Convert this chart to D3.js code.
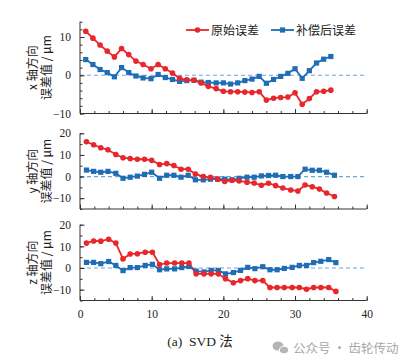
<!DOCTYPE html>
<html><head><meta charset="utf-8">
<script src="https://cdn.jsdelivr.net/npm/d3@7"></script>
<style>
html,body{margin:0;padding:0;background:#fff;}
svg{display:block;}
.tick text{font-family:"Liberation Serif","DejaVu Serif",serif;}
</style></head>
<body>
<svg id="chart" width="404" height="364"></svg>
<script>
// ---- data ----
const seriesNames = ["原始误差", "补偿后误差"];
const panelLabels = ["x 轴方向", "y 轴方向", "z 轴方向"];
const unitLabel = "误差值 / μm";
const caption = "(a)\u00a0\u00a0SVD 法";
const watermark = "公众号 · 齿轮传动";

const xTickLabels = [0, 10, 20, 30, 40];

const xPosX = [0.8,1.8,2.8,3.8,4.8,5.8,6.8,7.8,8.8,9.9,10.9,11.9,12.9,13.9,14.9,15.9,16.9,17.9,19.0,20.0,21.0,22.0,23.0,24.0,25.0,26.0,27.0,28.0,29.0,30.0,31.0,32.0,33.0,34.0,35.0];
const xPosY = [0.9,1.9,2.9,3.9,5.0,6.0,7.0,8.0,9.0,10.0,11.1,12.1,13.1,14.1,15.1,16.1,17.2,18.2,19.2,20.2,21.2,22.2,23.3,24.3,25.3,26.3,27.3,28.3,29.4,30.4,31.4,32.4,33.4,34.4,35.5];
const xPosZ = [0.9,1.9,2.9,4.0,5.0,6.0,7.0,8.0,9.1,10.1,11.1,12.1,13.2,14.2,15.2,16.2,17.3,18.3,19.3,20.3,21.4,22.4,23.4,24.4,25.5,26.5,27.5,28.5,29.6,30.6,31.6,32.6,33.6,34.7,35.7];

const rawX = [11.5,9.7,7.9,6.3,4.8,7.0,5.4,3.7,2.8,1.7,2.8,1.7,0.6,-0.8,-1.2,-1.3,-2.0,-2.9,-3.5,-4.2,-4.3,-4.3,-4.4,-4.5,-4.3,-6.5,-6.0,-5.8,-5.7,-4.6,-7.6,-6.1,-4.3,-4.2,-3.9];
const compX = [4.1,2.8,1.5,0.7,-0.4,2.0,0.7,-0.2,-0.7,-0.9,0.2,-0.6,-1.1,-1.6,-1.4,-1.3,-1.8,-1.9,-2.0,-2.0,-2.3,-2.0,-1.4,-1.0,-0.3,-2.1,-1.1,-0.3,0.5,1.7,-0.8,1.2,3.2,4.2,4.9];

const rawY = [16.1,14.7,13.3,12.4,10.2,8.7,8.3,8.0,8.0,7.5,5.6,6.0,5.1,3.4,3.4,1.2,0.0,-0.4,-1.2,-2.3,-1.7,-2.0,-2.6,-3.0,-4.0,-3.1,-4.2,-5.3,-6.2,-6.7,-3.9,-4.7,-5.8,-7.6,-9.2];
const compY = [3.0,2.4,2.0,2.4,1.5,-0.8,-0.3,0.2,1.0,2.0,-0.8,0.6,0.6,-0.3,0.6,-1.5,-1.5,-1.2,-1.2,-1.2,-1.5,-0.8,-0.3,-0.3,0.3,0.5,0.6,0.0,0.0,0.0,3.4,2.9,2.9,2.0,0.6];

const rawZ = [11.5,12.5,12.4,13.3,11.5,4.2,6.5,6.6,7.3,7.3,1.6,2.3,2.3,2.3,2.3,-2.7,-2.7,-2.7,-2.7,-4.9,-6.8,-5.8,-4.9,-5.8,-5.8,-9.0,-9.0,-9.0,-9.0,-9.0,-9.8,-9.0,-9.0,-9.0,-10.8];
const compZ = [2.6,2.6,2.0,3.0,1.2,-1.2,0.2,0.2,1.2,1.7,-0.8,-0.4,-0.4,0.2,0.7,-1.4,-1.8,-1.1,-1.1,-2.7,-2.1,-1.1,0.3,-0.3,0.6,-0.8,-0.8,-0.2,0.3,1.2,1.2,2.5,3.1,3.9,2.5];

const yDomains = [[-10, 14], [-15, 20], [-15, 20]];
const yMajor = [[-10, 0, 10], [-10, 0, 10, 20], [-10, 0, 10, 20]];
const yMinorStep = [2, 5, 5];

// ---- layout ----
const colors = {raw: "#e8262b", comp: "#1f6db5", zero: "#6fa6d8", axis: "#333"};
const panelRanges = [[113.5, 21.7], [209, 133.3], [300.5, 224.7]];
const svg = d3.select("#chart");
const x = d3.scaleLinear().domain([0, 40]).range([80, 366.7]);

const panels = [
  {xs: xPosX, raw: rawX, comp: compX},
  {xs: xPosY, raw: rawY, comp: compY},
  {xs: xPosZ, raw: rawZ, comp: compZ}
];

const xMinor = d3.range(0, 40.01, 2);

panels.forEach((p, i) => {
  const y = d3.scaleLinear().domain(yDomains[i]).range(panelRanges[i]);
  const g = svg.append("g");
  const y0 = panelRanges[i][0];

  g.append("line")
    .attr("x1", x(0)).attr("x2", x(40))
    .attr("y1", y(0)).attr("y2", y(0))
    .attr("stroke", colors.zero).attr("stroke-width", 1.2)
    .attr("stroke-dasharray", "4,3");

  const yMinor = d3.range(yDomains[i][0], yDomains[i][1] + 0.01, yMinorStep[i]);
  g.append("g").attr("transform", `translate(${x(0)},0)`)
    .call(d3.axisLeft(y).tickValues(yMinor).tickSize(-2.5).tickFormat(""))
    .call(a => a.select(".domain").remove())
    .call(a => a.selectAll("line").attr("stroke", colors.axis));
  g.append("g").attr("transform", `translate(${x(0)},0)`)
    .call(d3.axisLeft(y).tickValues(yMajor[i]).tickSize(-4.5).tickPadding(9)
      .tickFormat(d => d < 0 ? "\u2212" + Math.abs(d) : d))
    .call(a => a.select(".domain").attr("stroke", colors.axis).attr("d", `M0,${y.range()[0]}V${y.range()[1]}`))
    .call(a => a.selectAll("line").attr("stroke", colors.axis))
    .call(a => a.selectAll("text").attr("font-size", 11.5).attr("fill", "#222"));

  g.append("g").attr("transform", `translate(0,${y0})`)
    .call(d3.axisBottom(x).tickValues(xMinor).tickSize(-2.5).tickFormat(""))
    .call(a => a.select(".domain").remove())
    .call(a => a.selectAll("line").attr("stroke", colors.axis));
  g.append("g").attr("transform", `translate(0,${y0})`)
    .call(d3.axisBottom(x).tickValues(xTickLabels).tickSize(-4.5).tickPadding(9)
      .tickFormat(i === 2 ? d3.format("d") : ""))
    .call(a => a.select(".domain").attr("stroke", colors.axis).attr("d", `M${x.range()[0]},0H${x.range()[1]}`))
    .call(a => a.selectAll("line").attr("stroke", colors.axis))
    .call(a => a.selectAll("text").attr("font-size", 11.5).attr("fill", "#222"));

  const data = p.xs.map((xv, k) => ({x: xv, r: p.raw[k], c: p.comp[k]}));
  g.append("path").datum(data)
    .attr("fill", "none").attr("stroke", colors.comp).attr("stroke-width", 1.8)
    .attr("d", d3.line().x(d => x(d.x)).y(d => y(d.c)));
  g.append("path").datum(data)
    .attr("fill", "none").attr("stroke", colors.raw).attr("stroke-width", 1.8)
    .attr("d", d3.line().x(d => x(d.x)).y(d => y(d.r)));
  g.selectAll(".sq").data(data).enter().append("rect")
    .attr("x", d => x(d.x) - 2.6).attr("y", d => y(d.c) - 2.6)
    .attr("width", 5.2).attr("height", 5.2).attr("fill", colors.comp);
  g.selectAll(".ci").data(data).enter().append("circle")
    .attr("cx", d => x(d.x)).attr("cy", d => y(d.r)).attr("r", 2.8)
    .attr("fill", colors.raw);

  const cy = (panelRanges[i][0] + panelRanges[i][1]) / 2;
  const lab = svg.append("text")
    .attr("transform", `translate(0,${cy}) rotate(-90)`)
    .attr("text-anchor", "middle")
    .attr("font-family", "'Noto Sans CJK SC','Liberation Serif',serif")
    .attr("font-size", 12).attr("fill", "#222");
  lab.append("tspan").attr("x", 0).attr("y", 37).text(panelLabels[i]);
  lab.append("tspan").attr("x", 0).attr("y", 51).text(unitLabel);
});

// legend
const lg = svg.append("g").attr("font-family", "'Noto Sans CJK SC',sans-serif").attr("font-size", 12).attr("fill", "#222");
const legendItems = [
  {name: seriesNames[0], color: colors.raw, shape: "circle", x0: 186},
  {name: seriesNames[1], color: colors.comp, shape: "rect", x0: 271}
];
legendItems.forEach(it => {
  lg.append("line").attr("x1", it.x0).attr("x2", it.x0 + 23).attr("y1", 30).attr("y2", 30)
    .attr("stroke", it.color).attr("stroke-width", 1.8);
  if (it.shape === "circle") {
    lg.append("circle").attr("cx", it.x0 + 11.5).attr("cy", 30).attr("r", 2.8).attr("fill", it.color);
  } else {
    lg.append("rect").attr("x", it.x0 + 11.5 - 2.6).attr("y", 27.4).attr("width", 5.2).attr("height", 5.2).attr("fill", it.color);
  }
  lg.append("text").attr("x", it.x0 + 25).attr("y", 34.5).text(it.name);
});

// caption
svg.append("text").attr("x", 200).attr("y", 346)
  .attr("text-anchor", "middle")
  .attr("font-family", "'Liberation Serif','Noto Sans CJK SC',serif")
  .attr("font-size", 13.5).attr("fill", "#222")
  .text(caption);

// watermark
const wm = svg.append("g").attr("fill", "#b5b5b5");
wm.append("ellipse").attr("cx", 278).attr("cy", 346).attr("rx", 5.5).attr("ry", 4.6);
wm.append("ellipse").attr("cx", 284).attr("cy", 350).attr("rx", 4.6).attr("ry", 3.8).attr("stroke", "#fff").attr("stroke-width", 1);
wm.append("text").attr("x", 293).attr("y", 352.5)
  .attr("font-family", "'Noto Sans CJK SC',sans-serif").attr("font-size", 12.5)
  .attr("fill", "#a8a8a8").text(watermark);
</script>
</body></html>
